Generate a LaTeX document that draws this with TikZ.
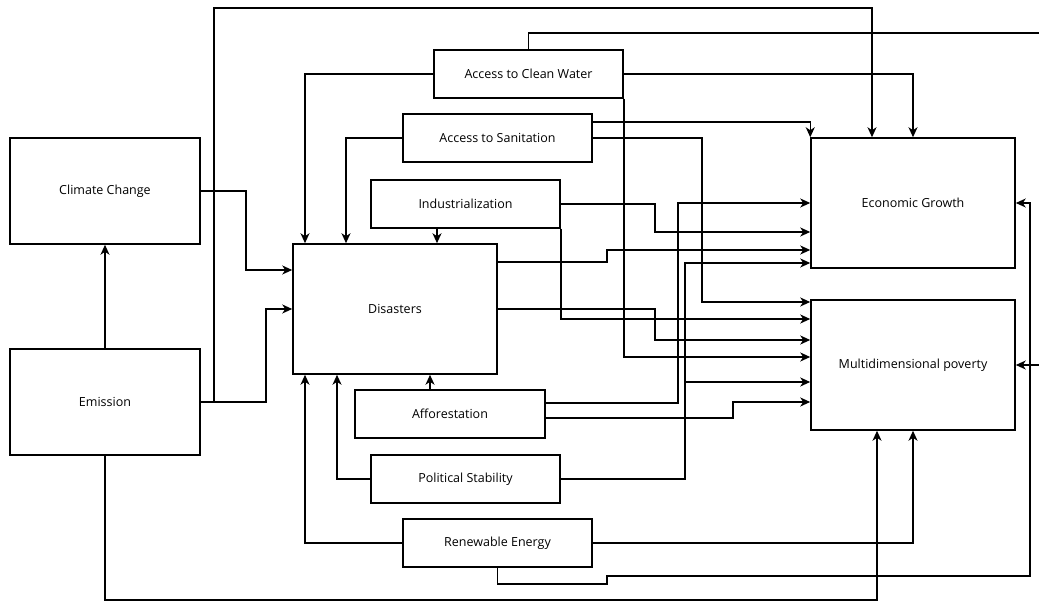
\documentclass[tikz,border=0pt]{standalone}
\usepackage{fontspec}
\setmainfont{Open Sans}
\usetikzlibrary{arrows.meta}
\begin{document}
\begin{tikzpicture}[x=1pt,y=-1pt,line width=1.5pt,
  box/.style={draw,minimum width=#1,inner sep=0pt,font=\fontsize{12.5}{15}\selectfont},
  arr/.style={-{Stealth[length=10pt,width=9pt,inset=3pt]}}]
\useasboundingbox (0,0) rectangle (1039,601);
\node [box=190pt,minimum height=106pt] (cc) at (105,191) {Climate Change};
\node [box=190pt,minimum height=106pt] (em) at (105,402) {Emission};
\node [box=204pt,minimum height=130pt] (dis) at (395,309) {Disasters};
\node [box=189pt,minimum height=48pt] (water) at (528.5,74) {Access to Clean Water};
\node [box=189pt,minimum height=48pt] (sani) at (497.5,138) {Access to Sanitation};
\node [box=189pt,minimum height=48pt] (ind) at (465.5,204) {Industrialization};
\node [box=190pt,minimum height=48pt] (aff) at (450,414) {Afforestation};
\node [box=189pt,minimum height=48pt] (pol) at (465.5,479) {Political Stability};
\node [box=189pt,minimum height=48pt] (ren) at (497.5,543) {Renewable Energy};
\node [box=204pt,minimum height=130pt] (eg) at (913,203) {Economic Growth};
\node [box=204pt,minimum height=130pt] (mp) at (913,365) {Multidimensional poverty};
% emission
\draw[arr] (em.north) -- (cc.south);
\draw[arr] (cc.east) -| (246,270) -- (dis.west |- 0,270);
\draw[arr] (em.east) -| (266,309) -- (dis.west |- 0,309);
\draw[arr] (em.east) -| (214,8) -| (eg.north -| 872,0);
\draw[arr] (em.south) |- (877,600) -- (mp.south -| 877,0);
% water and sanitation
\draw[arr] (water.west) -| (dis.north -| 305,0);
\draw[arr] (water.east) -| (eg.north -| 913,0);
\draw[arr] (water.north) |- (1045,33) |- (mp.east);
\draw[arr] (water.south east) |- (mp.west |- 0,357);
\draw[arr] (sani.west) -| (dis.north -| 346,0);
\draw[arr] (sani.east |- 0,122) -| (eg.north west);
\draw[arr] (sani.east) -| (702,302) -- (mp.west |- 0,302);
% industrialization
\draw[arr] (ind.south -| 437,0) -- (dis.north -| 437,0);
\draw[arr] (ind.east) -| (655,232) -- (eg.west |- 0,232);
\draw[arr] (ind.south east) |- (mp.west |- 0,319);
% disasters
\draw[arr] (dis.east |- 0,262) -| (607,250) -- (eg.west |- 0,250);
\draw[arr] (dis.east) -| (655,340) -- (mp.west |- 0,340);
% afforestation
\draw[arr] (aff.north -| 430,0) -- (dis.south -| 430,0);
\draw[arr] (aff.east |- 0,403) -| (678,203) -- (eg.west);
\draw[arr] (aff.east |- 0,418) -| (733,402) -- (mp.west |- 0,402);
% political stability
\draw[arr] (pol.west) -| (dis.south -| 337,0);
\draw[arr] (pol.east) -| (685,263) -- (eg.west |- 0,263);
\draw[arr] (pol.east) -| (685,382) -- (mp.west |- 0,382);
% renewable energy
\draw[arr] (ren.west) -| (dis.south -| 305,0);
\draw[arr] (ren.east) -| (mp.south -| 913,0);
\draw[arr] (ren.south) |- (607,584) |- (1030,576) |- (eg.east);
\end{tikzpicture}
\end{document}
